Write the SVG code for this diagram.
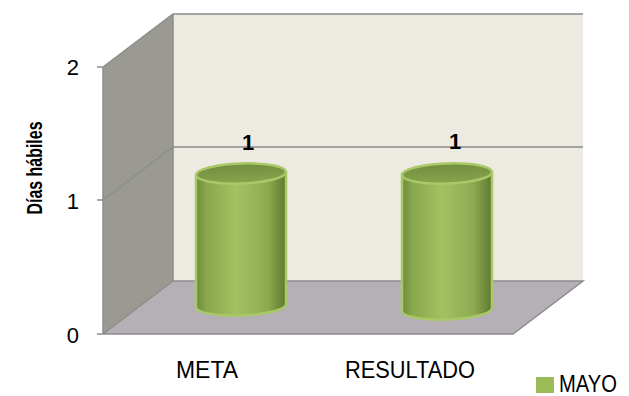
<svg xmlns="http://www.w3.org/2000/svg" width="629" height="396" viewBox="0 0 629 396">
<defs>
<linearGradient id="cylBody" x1="0" y1="0" x2="1" y2="0">
<stop offset="0" stop-color="#6F8A3A"/>
<stop offset="0.12" stop-color="#8AA84E"/>
<stop offset="0.45" stop-color="#A2C262"/>
<stop offset="0.8" stop-color="#8DAA50"/>
<stop offset="1" stop-color="#5F7830"/>
</linearGradient>
<linearGradient id="cylTop" x1="0" y1="0" x2="0" y2="1">
<stop offset="0" stop-color="#728D40"/>
<stop offset="1" stop-color="#87A44E"/>
</linearGradient>
</defs>
<style>
.edge{stroke:#8C8C8C;stroke-width:1.5;fill:none}
.tick{font-family:"Liberation Sans",Arial,sans-serif;font-size:22px;fill:#000}
.cat{font-family:"Liberation Sans",Arial,sans-serif;font-size:23px;fill:#000}
.val{font-family:"Liberation Sans",Arial,sans-serif;font-size:22px;font-weight:bold;fill:#000}
.rim{stroke:#A9C866;stroke-width:2.5}
</style>
<rect width="629" height="396" fill="#FFFFFF"/>
<g id="walls">
<polygon points="173,14 583,14 583,281 173,281" fill="#EDEBE1"/>
<polygon points="103,67 173,14 173,281 103,334" fill="#9B9A92"/>
<polygon points="103,334 173,281 583,281 513,334" fill="#B4B0B5"/>
<polyline class="edge" points="103,67 173,14 583,14"/>
<line class="edge" x1="103" y1="67" x2="103" y2="334"/>
<line class="edge" x1="173" y1="14" x2="173" y2="281"/>
<polyline class="edge" points="103,200 173,147 583,147"/>
<polyline class="edge" points="103,334 173,281 583,281 513,334 103,334"/>
<line class="edge" x1="97" y1="67" x2="103" y2="67"/>
<line class="edge" x1="97" y1="200" x2="103" y2="200"/>
<line class="edge" x1="97" y1="334" x2="103" y2="334"/>
</g>
<g id="axis">
<text class="tick" x="79" y="75" text-anchor="end">2</text>
<text class="tick" x="79" y="209" text-anchor="end">1</text>
<text class="tick" x="79" y="343" text-anchor="end">0</text>
<text x="42" y="168" transform="rotate(-90 42 168)" text-anchor="middle" textLength="93" lengthAdjust="spacingAndGlyphs" font-family="'Liberation Sans',Arial,sans-serif" font-size="22" font-weight="bold" fill="#000">Días hábiles</text>
</g>
<g id="bar-meta">
<path d="M196,175 L196,307 A45,10 -2 0 0 286,304 L286,172 Z" fill="url(#cylBody)" class="rim"/>
<ellipse cx="241" cy="173.5" rx="45" ry="10" transform="rotate(-2 241 173.5)" fill="url(#cylTop)" class="rim"/>
<text class="val" x="248" y="150" text-anchor="middle">1</text>
</g>
<g id="bar-resultado">
<path d="M402,175 L402,311 A45,10 -2 0 0 492,308 L492,172 Z" fill="url(#cylBody)" class="rim"/>
<ellipse cx="447" cy="173.5" rx="45" ry="10" transform="rotate(-2 447 173.5)" fill="url(#cylTop)" class="rim"/>
<text class="val" x="455" y="149" text-anchor="middle">1</text>
</g>
<g id="labels">
<text class="cat" x="176" y="378" textLength="62" lengthAdjust="spacingAndGlyphs">META</text>
<text class="cat" x="345" y="378" textLength="130" lengthAdjust="spacingAndGlyphs">RESULTADO</text>
</g>
<g id="legend">
<rect x="536" y="377" width="18" height="16" fill="#9BBB59"/>
<text class="cat" x="559" y="392" textLength="58" lengthAdjust="spacingAndGlyphs">MAYO</text>
</g>
</svg>
